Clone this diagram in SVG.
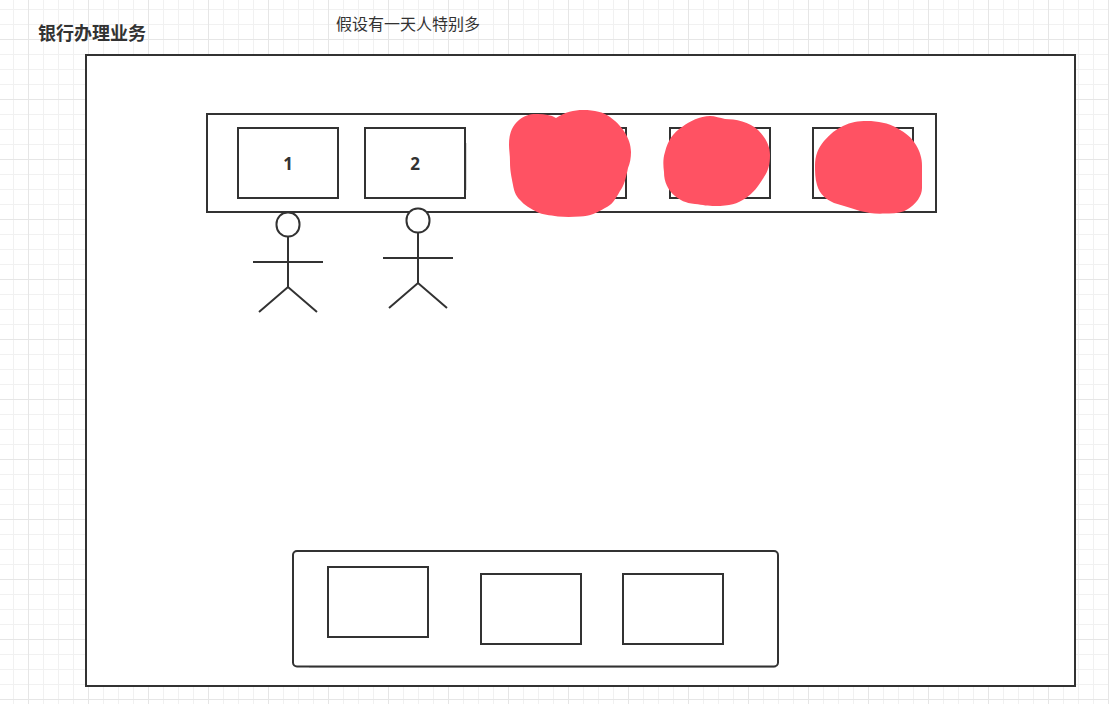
<svg xmlns="http://www.w3.org/2000/svg" width="1109" height="704" viewBox="0 0 1109 704">
<style>
.box{fill:#fff;stroke:#323232;stroke-width:2}
.line{fill:none;stroke:#323232;stroke-width:2}
.blob{fill:#ff5263}
.num{font-family:"Noto Sans","Liberation Sans",sans-serif;font-size:17px;font-weight:700;fill:#323232;text-anchor:middle}
.cjk{font-family:"Noto Sans CJK SC","Noto Sans",sans-serif;fill:#323232}
</style>
<defs>
<pattern id="grid" patternUnits="userSpaceOnUse" x="28" y="39" width="60" height="60">
<rect width="60" height="60" fill="#fff"/>
<path d="M15.5 0V60M30.5 0V60M45.5 0V60M0 15.5H60M0 30.5H60M0 45.5H60" fill="none" stroke="#f1f1f1" stroke-width="1"/>
<path d="M.5 0V60M0 .5H60" fill="none" stroke="#e6e6e6" stroke-width="1"/>
</pattern>
</defs>
<rect id="background" width="1109" height="704" fill="url(#grid)"/>
<g id="bank"><rect class="box" x="86" y="55" width="989" height="631"/></g>
<text id="title" class="cjk" x="38" y="40" font-size="18" font-weight="700">银行办理业务</text>
<text id="note" class="cjk" x="336" y="30" font-size="16">假设有一天人特别多</text>
<g id="counter-row"><rect class="box" x="207" y="114" width="729" height="98"/></g>
<g id="window-1"><rect class="box" x="238" y="128" width="100" height="70"/><text class="num" x="288" y="170">1</text></g>
<g id="window-2"><path d="M466.500 143V190" fill="none" stroke="#d8d8d8"/><rect class="box" x="365" y="128" width="100" height="70"/><text class="num" x="415" y="170">2</text></g>
<g id="window-3"><rect class="box" x="526" y="128" width="100" height="70"/></g>
<g id="window-4"><rect class="box" x="670" y="128" width="100" height="70"/></g>
<g id="window-5"><rect class="box" x="813" y="128" width="100" height="70"/></g>
<g id="person-1"><rect class="box" x="276.500" y="212.500" width="23" height="24" rx="11" ry="11.500"/><path class="line" d="M288 237V287M253 262H323M259 312L288 287L317 312"/></g>
<g id="person-2"><rect class="box" x="406.500" y="208.500" width="23" height="24" rx="11" ry="11.500"/><path class="line" d="M418 233V283M383 258H453M389 308L418 283L447 308"/></g>
<path id="scribble-3" class="blob" d="M556 118C565 112 574 110 583 110C595 110 603 112 610 117C620 124 631 137 631 152C631 158 630 163 628 168C626 178 624 186 620 191C615 200 612 205 605 208C597 213 590 216 580 216.500C572 217 565 217 558 216.500C549 215 543 215 537 212C530 208 524 205 520 200C515 195 514 190 513 185C511 175 510 170 510 162C510 155 509 150 509 145C509 132 513 125 519 120C525 115 531 113.500 538 114C545 114 551 115 556 118Z"/>
<path id="scribble-4" class="blob" d="M710 116C715 116 720 118 725 119C735 119 750 122 758 130C765 137 770 145 770 155C770 165 768 171 764 177C758 187 753 193 746 198C737 204 730 206 715 206C708 206 703 205 695 204C685 203 680 200 675 196C668 190 664 182 664 172C663 165 663 158 665 152C668 140 673 133 682 127C690 121 700 116 710 116Z"/>
<path id="scribble-5" class="blob" d="M867 121C878 121 888 123 897 128C906 133 912 138 916 145C920 152 922 158 922 166L922 188C922 196 916 204 908 209C902 213 894 214 885 213.500C875 214 868 213 860 211C852 208 843 206 834 203C826 199 820 195 817 185C815 178 815 172 815 165C815 156 818 148 824 141C830 134 836 129 843 126C851 122 858 121 867 121Z"/>
<g id="waiting-area"><path d="M309 667.500H776" fill="none" stroke="#d8d8d8"/><rect class="box" x="293" y="551" width="485" height="115.500" rx="4"/></g>
<g id="seat-1"><rect class="box" x="328" y="567" width="100" height="70"/></g>
<g id="seat-2"><rect class="box" x="481" y="574" width="100" height="70"/></g>
<g id="seat-3"><rect class="box" x="623" y="574" width="100" height="70"/></g>
</svg>
